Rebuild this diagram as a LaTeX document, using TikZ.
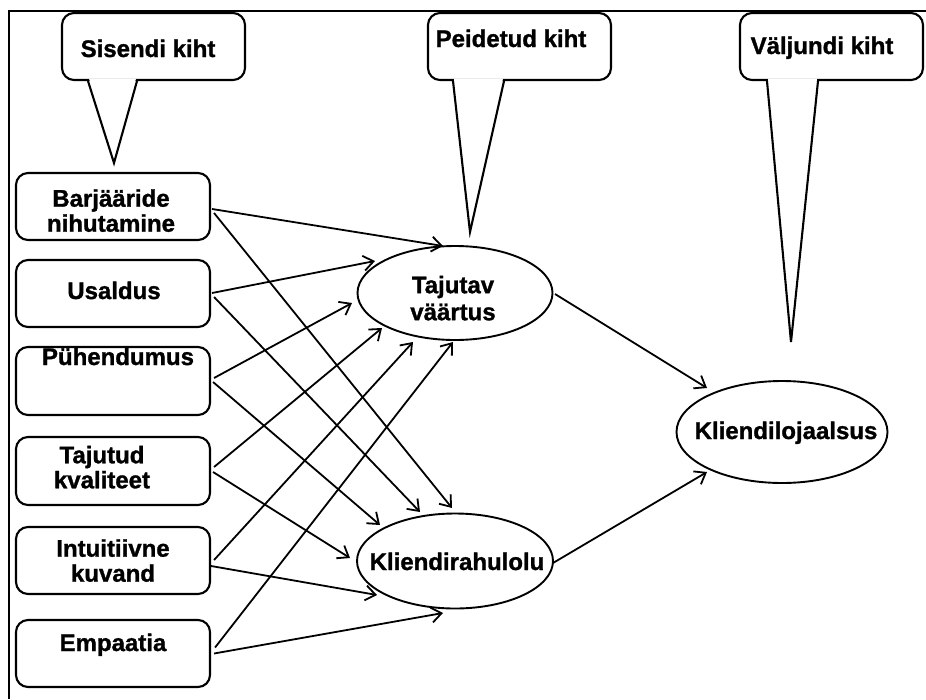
\documentclass[tikz,border=0pt]{standalone}
\usepackage{fontspec}
\setmainfont{Liberation Sans}[BoldFeatures={FakeBold=1.2}]
\usetikzlibrary{arrows.meta,shapes.geometric}
\begin{document}
\begin{tikzpicture}[x=1pt,y=-1pt,
  lbox/.style={draw, line width=2.1pt, rounded corners=12pt, minimum width=194pt, minimum height=67pt, inner sep=0pt},
  cbox/.style={draw, line width=2.1pt, rounded corners=12pt, fill=white, minimum width=183pt, minimum height=67pt, inner sep=0pt},
  ell/.style={draw, ellipse, line width=1.9pt, inner sep=0pt},
  lbl/.style={font=\bfseries\fontsize{24}{25}\selectfont, align=center, inner sep=0pt},
  blbl/.style={lbl, anchor=base},
  arr/.style={line width=1.8pt, -{Straight Barb[length=10pt,width=15pt]}},
  ptr/.style={line width=2.1pt, line join=miter},
  ]
\useasboundingbox (0,0) rectangle (926,699);
% frame
\draw[line width=2.8pt] (9,699) -- (9,11) -- (926,11);

% input boxes
\node[lbox] (b1) at (113,206.5) {};
\node[lbox] (b2) at (113,293.5) {};
\node[lbox, minimum height=68pt] (b3) at (113,381) {};
\node[lbox, minimum height=68pt] (b4) at (113,471) {};
\node[lbox] (b5) at (113,560.5) {};
\node[lbox] (b6) at (113,653.5) {};
\node[lbl] (t1) at (111,210.6) {Barjääride\\nihutamine};
\node[blbl] (t2) at (114,299) {Usaldus};
\node[blbl] (t3) at (118,365) {Pühendumus};
\node[lbl] (t4) at (102,467.2) {Tajutud\\kvaliteet};
\node[lbl] (t5) at (113,560.6) {Intuitiivne\\kuvand};
\node[blbl] (t6) at (113,651) {Empaatia};

% ellipses
\node[ell, minimum width=195pt, minimum height=94pt] (tv) at (455,293) {};
\node[ell, minimum width=196pt, minimum height=95pt] (kr) at (455,561) {};
\node[ell, minimum width=211pt, minimum height=102pt] (kl) at (782,432) {};
\node[lbl, text depth=0pt] (ttv) at (453,298) {Tajutav\\[2pt]väärtus};
\node[blbl] (tkr) at (457,570) {Kliendirahulolu};
\node[blbl] (tkl) at (786,439) {Kliendilojaalsus};

% callouts
\coordinate (p1) at (114,163);
\coordinate (p2) at (470,232);
\coordinate (p3) at (791,342);
\node[cbox] (c1) at (153.5,46.5) {};
\node[cbox] (c2) at (519.5,46.5) {};
\node[cbox] (c3) at (831.5,46.5) {};
\fill[white] ([xshift=-64.5pt,yshift=2.5pt]c1.south) -- (p1) -- ([xshift=-17.5pt,yshift=2.5pt]c1.south) -- cycle;
\draw[ptr] ([xshift=-65.5pt]c1.south) -- (p1) -- ([xshift=-16.5pt]c1.south);
\fill[white] ([xshift=-65.5pt,yshift=2.5pt]c2.south) -- (p2) -- ([xshift=-16.5pt,yshift=2.5pt]c2.south) -- cycle;
\draw[ptr] ([xshift=-66.5pt]c2.south) -- (p2) -- ([xshift=-15.5pt]c2.south);
\fill[white] ([xshift=-63.5pt,yshift=2.5pt]c3.south) -- (p3) -- ([xshift=-14.5pt,yshift=2.5pt]c3.south) -- cycle;
\draw[ptr] ([xshift=-64.5pt]c3.south) -- (p3) -- ([xshift=-13.5pt]c3.south);
\node[blbl] (tc1) at (148,57) {Sisendi kiht};
\node[blbl] (tc2) at (511,47) {Peidetud kiht};
\node[blbl] (tc3) at (822,54) {Väljundi kiht};

% arrows to Tajutav vaartus
\draw[arr] ([shift={(1,2.5)}]b1.east) -- ([shift={(-12,-47)}]tv.center);
\draw[arr] ([shift={(1,-0.5)}]b2.east) -- ([shift={(-80,-32)}]tv.center);
\draw[arr] ([shift={(3,-3)}]b3.east) -- ([shift={(-103,10)}]tv.center);
\draw[arr] ([shift={(3,-4)}]b4.east) -- ([shift={(-73,35)}]tv.center);
\draw[arr] ([shift={(3,-0.5)}]b5.east) -- ([shift={(-42,49)}]tv.center);
\draw[arr] ([shift={(4,-6)}]b6.east) -- ([shift={(-2,49)}]tv.center);
% arrows to Kliendirahulolu
\draw[arr] ([shift={(3,6.5)}]b1.east) -- ([shift={(-3,-53)}]kr.center);
\draw[arr] ([shift={(3,3.5)}]b2.east) -- ([shift={(-35,-49)}]kr.center);
\draw[arr] ([shift={(2,1)}]b3.east) -- ([shift={(-75,-36)}]kr.center);
\draw[arr] ([shift={(2,1)}]b4.east) -- ([shift={(-105,-3)}]kr.center);
\draw[arr] ([shift={(0,5.5)}]b5.east) -- ([shift={(-78,34)}]kr.center);
\draw[arr] ([shift={(3,0)}]b6.east) -- ([shift={(-12,52)}]kr.center);
% arrows to Kliendilojaalsus
\draw[arr] ([shift={(100,1)}]tv.center) -- ([shift={(-75,-44)}]kl.center);
\draw[arr] ([shift={(98,2)}]kr.center) -- ([shift={(-75,40)}]kl.center);
\end{tikzpicture}
\end{document}
